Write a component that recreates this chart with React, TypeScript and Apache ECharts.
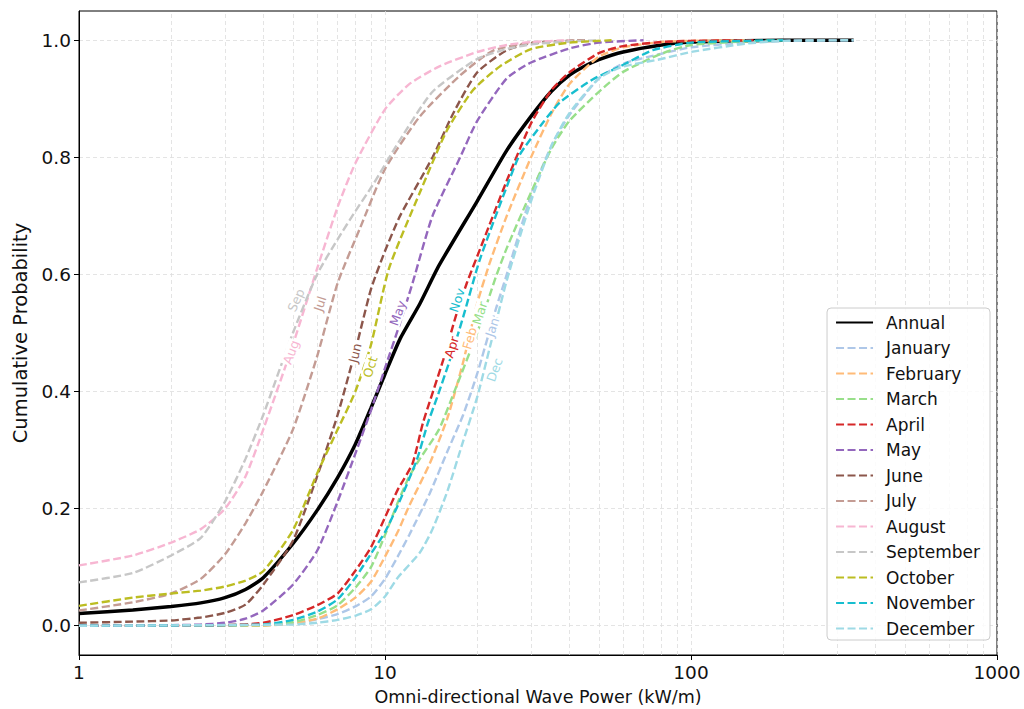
import React, { useEffect, useRef } from "react";
import * as echarts from "echarts";

type Pt = [number, number];

const annual: Pt[] = [[1,0.021],[1.5,0.027],[2,0.033],[2.5,0.039],[3,0.048],[3.5,0.062],[4,0.082],[5,0.14],[6,0.197],[7,0.253],[8,0.31],[9,0.372],[10,0.43],[11.2,0.49],[13,0.55],[15,0.615],[20,0.725],[25,0.812],[30,0.87],[35,0.913],[40,0.94],[45,0.956],[50,0.967],[60,0.98],[80,0.992],[100,0.997],[150,0.999],[200,1.0],[340,1.0]];
const january: Pt[] = [[1,0],[4,0.001],[5,0.004],[6,0.011],[7,0.02],[8,0.033],[9,0.05],[10,0.08],[11,0.118],[12,0.155],[14,0.226],[16,0.298],[18,0.36],[20,0.43],[23,0.54],[25,0.6],[30,0.735],[35,0.82],[40,0.872],[50,0.935],[60,0.96],[80,0.977],[100,0.988],[150,0.996],[200,0.999],[340,1.0]];
const february: Pt[] = [[1,0],[4,0.0],[5,0.004],[6,0.012],[7,0.028],[8,0.048],[9,0.075],[10,0.118],[11,0.16],[12,0.205],[14,0.277],[16,0.355],[18,0.45],[20,0.55],[22,0.62],[25,0.7],[30,0.8],[35,0.875],[40,0.925],[50,0.972],[60,0.988],[80,0.997],[100,0.999],[150,1.0]];
const march: Pt[] = [[1,0],[4,0.001],[5,0.006],[6,0.018],[7,0.035],[8,0.065],[9,0.1],[10,0.155],[11,0.21],[12,0.255],[13,0.285],[15,0.335],[17,0.405],[20,0.5],[23,0.595],[25,0.645],[30,0.74],[35,0.815],[40,0.862],[50,0.912],[60,0.946],[80,0.977],[100,0.992],[150,0.998],[200,1.0]];
const april: Pt[] = [[1,0],[3,0.001],[4,0.005],[5,0.018],[6,0.035],[7,0.055],[8,0.094],[9,0.134],[10,0.185],[11,0.232],[12.3,0.277],[13.3,0.346],[15.5,0.454],[17,0.527],[18.5,0.585],[20.4,0.642],[25,0.76],[30,0.858],[35,0.915],[40,0.945],[50,0.978],[60,0.99],[80,0.997],[100,0.999],[160,1.0]];
const may: Pt[] = [[1,0],[2,0.001],[2.5,0.002],[3,0.005],[3.5,0.012],[4,0.026],[5,0.07],[6,0.128],[7,0.212],[8,0.294],[9,0.368],[10,0.44],[11.2,0.517],[12.3,0.585],[14.3,0.7],[17.6,0.8],[20,0.862],[25,0.935],[30,0.962],[40,0.986],[50,0.996],[70,1.0]];
const june: Pt[] = [[1,0.005],[1.5,0.007],[2,0.009],[2.5,0.014],[3,0.022],[3.5,0.036],[4,0.07],[5,0.145],[6,0.255],[7,0.36],[8,0.47],[9,0.575],[10,0.64],[11.2,0.7],[14.3,0.8],[16.7,0.875],[20,0.945],[25,0.983],[30,0.995],[45,1.0]];
const july: Pt[] = [[1,0.026],[1.5,0.04],[2,0.055],[2.5,0.08],[3,0.122],[3.5,0.175],[4,0.23],[5,0.335],[6,0.46],[7,0.585],[8.3,0.68],[10,0.78],[13,0.87],[17.6,0.94],[22.5,0.982],[30,0.996],[45,1.0]];
const august: Pt[] = [[1,0.103],[1.5,0.12],[2,0.142],[2.5,0.165],[3,0.2],[3.5,0.255],[4,0.335],[5,0.48],[6,0.61],[7,0.715],[8,0.79],[10,0.882],[12,0.925],[15,0.955],[20,0.98],[25,0.992],[30,0.997],[40,1.0]];
const september: Pt[] = [[1,0.074],[1.5,0.09],[2,0.12],[2.5,0.15],[3,0.212],[3.5,0.285],[4,0.36],[5,0.5],[6,0.6],[7,0.66],[8,0.708],[9.1,0.752],[11.2,0.83],[14.3,0.912],[20,0.968],[25,0.985],[30,0.993],[40,0.998],[50,1.0]];
const october: Pt[] = [[1,0.034],[1.5,0.048],[2,0.055],[2.5,0.06],[3,0.067],[3.5,0.077],[4,0.093],[5,0.163],[6,0.26],[7,0.335],[8,0.4],[9,0.48],[10.3,0.61],[13,0.74],[15.9,0.845],[19.4,0.915],[23.7,0.955],[30,0.985],[40,0.996],[55,1.0]];
const november: Pt[] = [[1,0],[4,0.002],[5,0.01],[6,0.024],[7,0.045],[8,0.082],[9,0.123],[10,0.16],[11,0.205],[12.7,0.283],[13.8,0.346],[14.8,0.39],[16.3,0.454],[18,0.527],[20.4,0.625],[25,0.75],[27.6,0.805],[32.9,0.86],[37.3,0.894],[47.7,0.933],[58.5,0.955],[75,0.983],[100,0.996],[150,0.999],[200,1.0]];
const december: Pt[] = [[1,0],[5,0.002],[6,0.005],[7,0.01],[8,0.017],[9,0.028],[10,0.05],[11,0.082],[13,0.125],[14.3,0.165],[16,0.23],[18,0.315],[20,0.39],[22,0.475],[25,0.59],[30,0.725],[35,0.82],[40,0.875],[50,0.935],[60,0.955],[80,0.968],[100,0.98],[150,0.994],[200,0.999],[340,1.0]];

const monthNames = ["January","February","March","April","May","June","July","August","September","October","November","December"];
const monthData = [january,february,march,april,may,june,july,august,september,october,november,december];
const monthColors = ["#aec7e8","#ffbb78","#98df8a","#d62728","#9467bd","#8c564b","#c49c94","#f7b6d2","#c7c7c7","#bcbd22","#17becf","#9edae5"];
// inline labels: [text, x, y, rotation]
const monthLabels: [string, number, number, number][] = [
  ["Jan", 22.4, 0.51, 72],
  ["Feb", 18.9, 0.491, 74],
  ["Mar", 20.4, 0.534, 72],
  ["Apr", 16.5, 0.476, 73],
  ["May", 11.0, 0.534, 70],
  ["Jun", 7.98, 0.466, 76],
  ["Jul", 6.13, 0.55, 72],
  ["Aug", 4.93, 0.467, 70],
  ["Sep", 5.12, 0.556, 66],
  ["Oct", 8.94, 0.442, 73],
  ["Nov", 17.2, 0.556, 72],
  ["Dec", 22.8, 0.437, 70],
];
const yTicks = [0, 0.2, 0.4, 0.6, 0.8, 1.0];
const minorX = [2,3,4,5,6,7,8,9,20,30,40,50,60,70,80,90,200,300,400,500,600,700,800,900];

const FONT = "DejaVu Sans";
const GRID_COLOR = "#dddddd";

export default function App() {
  const ref = useRef<HTMLDivElement>(null);
  useEffect(() => {
    if (!ref.current) return;
    const chart = echarts.init(ref.current, null, { renderer: "svg" });
    const series: any[] = [
      {
        name: "_grid",
        type: "line",
        data: [],
        silent: true,
        markLine: {
          silent: true,
          symbol: ["none", "none"],
          z: 1,
          label: { show: false },
          lineStyle: { type: [4, 3], color: GRID_COLOR, width: 0.8 },
          data: minorX.map((v) => ({ xAxis: v })),
        },
      },
      {
        name: "Annual",
        type: "line",
        data: annual,
        showSymbol: false,
        symbol: "none",
        smooth: 0.2,
        lineStyle: { color: "#000", width: 3.5 },
        itemStyle: { color: "#000" },
        z: 2,
      },
    ];
    monthNames.forEach((name, i) => {
      const lab = monthLabels[i];
      series.push({
        name,
        type: "line",
        data: monthData[i],
        showSymbol: false,
        symbol: "none",
        smooth: 0.2,
        lineStyle: { color: monthColors[i], width: 2.4, type: [8, 3.5] },
        itemStyle: { color: monthColors[i] },
        z: 3,
        markPoint: {
          silent: true,
          symbol: "circle",
          symbolSize: 1,
          itemStyle: { color: "rgba(0,0,0,0)" },
          label: {
            show: true,
            position: "inside",
            formatter: lab[0],
            rotate: lab[3],
            color: monthColors[i],
            fontFamily: FONT,
            fontSize: 12.5,
            backgroundColor: "#ffffff",
            padding: [0, 1],
          },
          data: [{ coord: [lab[1], lab[2]] }],
        },
      });
    });
    chart.setOption({
      animation: false,
      textStyle: { fontFamily: FONT },
      grid: {
        left: 79, right: 27, top: 11, bottom: 54,
        outerBoundsMode: "none",
        containLabel: false,
        show: true, borderColor: "#000", borderWidth: 1, backgroundColor: "transparent",
      },
      legend: {
        data: ["Annual", ...monthNames],
        orient: "vertical",
        right: 34,
        top: 308,
        itemWidth: 37,
        itemHeight: 14,
        itemGap: 8.5,
        padding: [6, 10, 3, 8],
        borderColor: "#cccccc",
        borderWidth: 1,
        borderRadius: 4,
        backgroundColor: "rgba(255,255,255,0.85)",
        itemStyle: { opacity: 0 },
        textStyle: { fontFamily: FONT, fontSize: 17, color: "#111", padding: [0, 0, 0, 8] },
      },
      xAxis: {
        type: "log",
        logBase: 10,
        min: 1,
        max: 1000,
        name: "Omni-directional Wave Power (kW/m)",
        nameLocation: "middle",
        nameGap: 33,
        nameTextStyle: { fontFamily: FONT, fontSize: 17.5, color: "#111" },
        axisLine: { show: true, onZero: false, lineStyle: { color: "#000", width: 1 } },
        axisTick: { show: true, length: 5, lineStyle: { color: "#000" } },
        axisLabel: { fontFamily: FONT, fontSize: 18.5, color: "#111", margin: 8, formatter: (v: number) => String(Math.round(v)) },
        splitLine: { show: true, lineStyle: { type: [4, 3], color: GRID_COLOR, width: 0.8 } },
      },
      yAxis: {
        type: "value",
        min: -0.05,
        max: 1.05,
        name: "Cumulative Probability",
        nameLocation: "middle",
        nameGap: 48,
        nameTextStyle: { fontFamily: FONT, fontSize: 19.5, color: "#111" },
        axisLine: { show: true, lineStyle: { color: "#000", width: 1 } },
        axisTick: { show: true, length: 5, customValues: yTicks, lineStyle: { color: "#000" } },
        axisLabel: {
          fontFamily: FONT, fontSize: 18.5, color: "#111", margin: 8,
          customValues: yTicks,
          formatter: (v: number) => v.toFixed(1),
        },
        splitLine: { show: true, lineStyle: { type: [4, 3], color: GRID_COLOR, width: 0.8 } },
      },
      series,
    });
    return () => chart.dispose();
  }, []);
  return <div ref={ref} style={{ width: 1024, height: 709, position: "absolute", left: 0, top: 0, background: "#fff" }} />;
}
